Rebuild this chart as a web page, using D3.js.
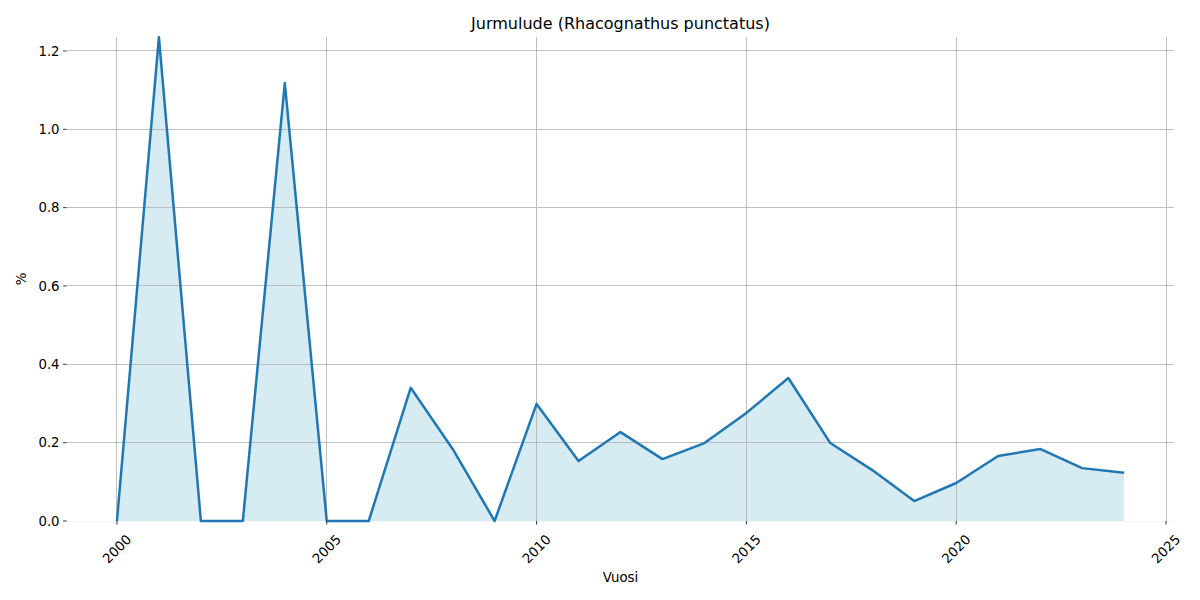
<!DOCTYPE html>
<html><head><meta charset="utf-8">
<script src="https://cdn.jsdelivr.net/npm/d3@7"></script>
<style>body{margin:0;background:#fff;} text{font-family:"DejaVu Sans",sans-serif;}</style>
</head><body><svg id="c" width="1200" height="600"></svg>
<script>
const years = [2000,2001,2002,2003,2004,2005,2006,2007,2008,2009,2010,2011,2012,2013,2014,2015,2016,2017,2018,2019,2020,2021,2022,2023,2024];
const values = [0,1.235,0,0,1.118,0,0,0.340,0.184,0,0.299,0.153,0.227,0.158,0.199,0.276,0.365,0.199,0.130,0.051,0.097,0.166,0.184,0.135,0.123];
const xTicks = [2000,2005,2010,2015,2020,2025];
const yTicks = [0,0.2,0.4,0.6,0.8,1.0,1.2];
const title = "Jurmulude (Rhacognathus punctatus)";

const svg = d3.select("#c");
const L=66.6, R=1174.4, T=37, B=521;
const x = d3.scaleLinear().domain([1998.8,2025.2]).range([L,R]);
const y = d3.scaleLinear().domain([0,1.2357]).range([B,T]);
const data = years.map((d,i)=>({x:d,y:values[i]}));

// fill
svg.append("path").datum(data)
  .attr("d", d3.area().x(d=>x(d.x)).y0(y(0)).y1(d=>y(d.y)))
  .attr("fill","rgb(173,216,230)").attr("fill-opacity",0.5);

// grid
const g = svg.append("g");
yTicks.forEach(t=>{
  g.append("line").attr("x1",L).attr("x2",R).attr("y1",y(t)).attr("y2",y(t))
   .attr("stroke","#b0b0b0").attr("stroke-width",0.8).attr("shape-rendering","crispEdges")
   .attr("opacity", t===0?0.15:1);
});
xTicks.forEach(t=>{
  g.append("line").attr("x1",x(t)).attr("x2",x(t)).attr("y1",T).attr("y2",B)
   .attr("stroke","#b0b0b0").attr("stroke-width",0.8).attr("shape-rendering","crispEdges");
});

// line
svg.append("path").datum(data)
  .attr("d", d3.line().x(d=>x(d.x)).y(d=>y(d.y)))
  .attr("fill","none").attr("stroke","#1f77b4").attr("stroke-width",2.5).attr("stroke-linejoin","round");

// y axis ticks and labels
yTicks.forEach(t=>{
  svg.append("line").attr("x1",L-3.5).attr("x2",L).attr("y1",y(t)).attr("y2",y(t))
    .attr("stroke","#000").attr("stroke-width",0.8);
  svg.append("text").attr("x",L-7).attr("y",y(t)).attr("dy","0.35em")
    .attr("text-anchor","end").attr("font-size","13.3px").attr("fill","#000")
    .text(d3.format(".1f")(t));
});
// x axis ticks and labels
xTicks.forEach(t=>{
  svg.append("line").attr("x1",x(t)).attr("x2",x(t)).attr("y1",B).attr("y2",B+3.5)
    .attr("stroke","#000").attr("stroke-width",0.8);
  svg.append("text").attr("transform",`translate(${x(t)},${B+28}) rotate(-45)`)
    .attr("text-anchor","middle").attr("dy","0.35em")
    .attr("font-size","13.3px").attr("fill","#000").text(t);
});

svg.append("text").attr("x",(L+R)/2).attr("y",582).attr("text-anchor","middle")
  .attr("font-size","13.3px").text("Vuosi");
svg.append("text").attr("transform",`translate(26,${(T+B)/2}) rotate(-90)`)
  .attr("text-anchor","middle").attr("font-size","13.3px").text("%");
svg.append("text").attr("x",(L+R)/2).attr("y",29).attr("text-anchor","middle")
  .attr("font-size","16px").text(title);
</script></body></html>
